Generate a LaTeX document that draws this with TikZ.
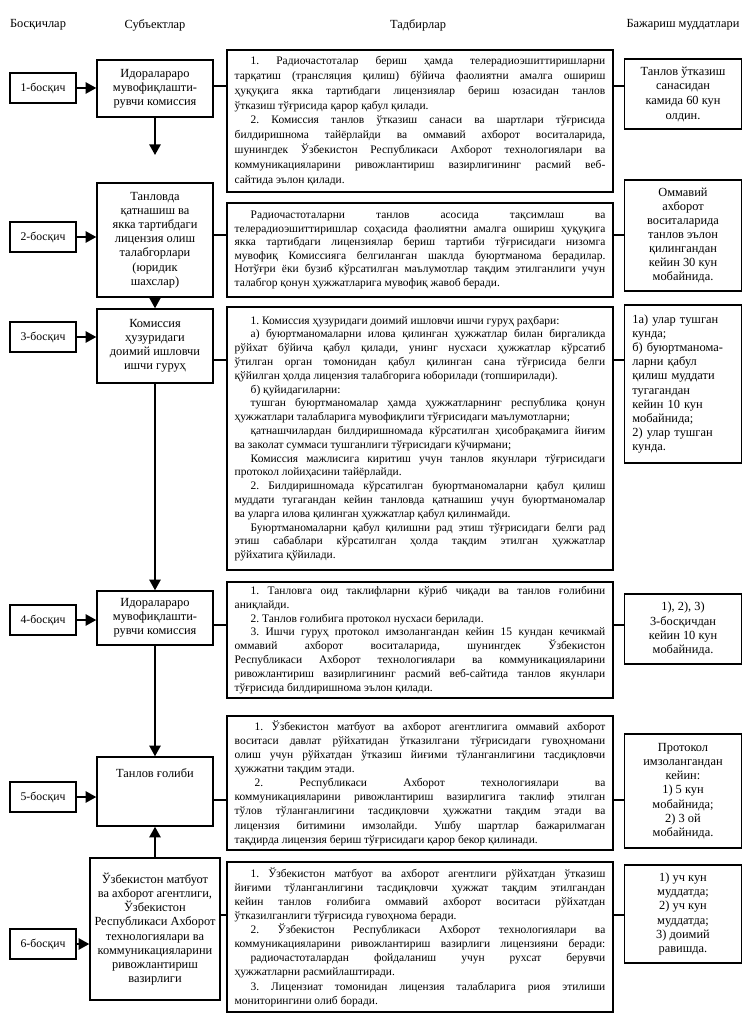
\documentclass[tikz,border=0pt]{standalone}
\usepackage{fontspec}
\setmainfont{Liberation Serif}
\usetikzlibrary{arrows.meta, positioning}
\frenchspacing

% one justified line, and the paragraph indent
\newcommand{\jl}[1]{#1\linebreak}
\newcommand{\ind}{\hspace*{12pt}}

\begin{document}
\begin{tikzpicture}[
  x=0.75pt, y=-0.75pt,
  stepbox/.style={
    rectangle, draw, line width=1.1pt, minimum width=49.5pt,
    minimum height=22.5pt, inner sep=0pt, font=\fontsize{8.8}{10}\selectfont
  },
  subjbox/.style={
    rectangle, draw, fill=white, line width=1.1pt, minimum width=87pt,
    align=center, inner sep=2pt
  },
  actbox/.style={
    rectangle, draw, fill=white, line width=1.1pt, text width=278pt,
    align=justify, inner xsep=5.75pt, inner ysep=2pt
  },
  termbox/.style={
    rectangle, draw, fill=white, line width=1.1pt, minimum width=87.75pt,
    align=center, inner sep=2pt
  },
  flow/.style={-{Triangle[length=8pt, width=8.5pt]}, line width=1.3pt},
  link/.style={line width=0.8pt},
  font=\fontsize{9.3}{10.6}\selectfont
]
\useasboundingbox (0,0) rectangle (754,1030);

% ------------------------------------------------------------
% column heads
\node (h1) at (38,25) {Босқичлар};
\node (h2) at (155,25) {Субъектлар};
\node (h3) at (418,25) {Тадбирлар};
\node (h4) at (683,25) {Бажариш муддатлари};

% ------------------------------------------------------------
% steps
\node[stepbox] (b1) at (43,88)  {1-босқич};
\node[stepbox] (b2) at (43,237) {2-босқич};
\node[stepbox] (b3) at (43,337) {3-босқич};
\node[stepbox] (b4) at (43,620) {4-босқич};
\node[stepbox] (b5) at (43,797) {5-босқич};
\node[stepbox] (b6) at (43,944) {6-босқич};

% ------------------------------------------------------------
% subjects
\node[subjbox, minimum height=42.75pt] (s1) at (155,88.5)
  {Идоралараро\\мувофиқлашти-\\рувчи комиссия};
\node[subjbox, minimum height=85.5pt] (s2) at (155,240)
  {Танловда\\қатнашиш ва\\якка тартибдаги\\лицензия олиш\\талабгорлари\\(юридик\\шахслар)};
\node[subjbox, minimum height=55.5pt] (s3) at (155,346)
  {Комиссия\\ҳузуридаги\\доимий ишловчи\\ишчи гуруҳ};
\node[subjbox, minimum height=40.5pt] (s4) at (155,618)
  {Идоралараро\\мувофиқлашти-\\рувчи комиссия};
\node[subjbox, minimum height=51.75pt] (s5) at (155,791.5) {};
\node[anchor=north] (s5t) at ([yshift=-6pt]s5.north) {Танлов ғолиби};
\node[subjbox, minimum width=97.5pt, minimum height=106.5pt] (s6) at (155,929)
  {Ўзбекистон матбуот\\ва ахборот агентлиги,\\Ўзбекистон\\Республикаси Ахборот\\технологиялари ва\\коммуникацияларини\\ривожлантириш\\вазирлиги};

% ------------------------------------------------------------
% measures
\node[actbox, minimum height=106.5pt, font=\fontsize{8.6}{11.1}\selectfont] (m1) at (420,121) {%
\jl{\ind 1. Радиочастоталар бериш ҳамда телерадиоэшиттиришларни}
\jl{тарқатиш (трансляция қилиш) бўйича фаолиятни амалга ошириш}
\jl{ҳуқуқига якка тартибдаги лицензиялар бериш юзасидан танлов}
ўтказиш тўғрисида қарор қабул қилади.\\
\jl{\ind 2. Комиссия танлов ўтказиш санаси ва шартлари тўғрисида}
\jl{билдиришнома тайёрлайди ва оммавий ахборот воситаларида,}
\jl{шунингдек Ўзбекистон Республикаси Ахборот технологиялари ва}
\jl{коммуникацияларини ривожлантириш вазирлигининг расмий веб-}
сайтида эълон қилади.};

\node[actbox, minimum height=70.5pt, font=\fontsize{8.6}{10.2}\selectfont] (m2) at (420,250) {%
\jl{\ind Радиочастоталарни танлов асосида тақсимлаш ва}
\jl{телерадиоэшиттиришлар соҳасида фаолиятни амалга ошириш ҳуқуқига}
\jl{якка тартибдаги лицензиялар бериш тартиби тўғрисидаги низомга}
\jl{мувофиқ Комиссияга белгиланган шаклда буюртманома берадилар.}
\jl{Нотўғри ёки бузиб кўрсатилган маълумотлар тақдим этилганлиги учун}
талабгор қонун ҳужжатларига мувофиқ жавоб беради.};

\node[actbox, minimum height=197.25pt, font=\fontsize{8.6}{10.35}\selectfont] (m3) at (420,438.5) {%
\ind 1. Комиссия ҳузуридаги доимий ишловчи ишчи гуруҳ раҳбари:\\
\jl{\ind а) буюртманомаларни илова қилинган ҳужжатлар билан биргаликда}
\jl{рўйхат бўйича қабул қилади, унинг нусхаси ҳужжатлар кўрсатиб}
\jl{ўтилган орган томонидан қабул қилинган сана тўғрисида белги}
қўйилган ҳолда лицензия талабгорига юборилади (топширилади).\\
\ind б) қуйидагиларни:\\
\jl{\ind тушган буюртманомалар ҳамда ҳужжатларнинг республика қонун}
ҳужжатлари талабларига мувофиқлиги тўғрисидаги маълумотларни;\\
\jl{\ind қатнашчилардан билдиришномада кўрсатилган ҳисобрақамига йиғим}
ва заколат суммаси тушганлиги тўғрисидаги кўчирмани;\\
\jl{\ind Комиссия мажлисига киритиш учун танлов якунлари тўғрисидаги}
протокол лойиҳасини тайёрлайди.\\
\jl{\ind 2. Билдиришномада кўрсатилган буюртманомаларни қабул қилиш}
\jl{муддати тугагандан кейин танловда қатнашиш учун буюртманомалар}
ва уларга илова қилинган ҳужжатлар қабул қилинмайди.\\
\jl{\ind Буюртманомаларни қабул қилишни рад этиш тўғрисидаги белги рад}
\jl{этиш сабаблари кўрсатилган ҳолда тақдим этилган ҳужжатлар}
рўйхатига қўйилади.};

\node[actbox, minimum height=87pt, font=\fontsize{8.6}{10.4}\selectfont] (m4) at (420,640) {%
\jl{\ind 1. Танловга оид таклифларни кўриб чиқади ва танлов ғолибини}
аниқлайди.\\
\ind 2. Танлов ғолибига протокол нусхаси берилади.\\
\jl{\ind 3. Ишчи гуруҳ протокол имзолангандан кейин 15 кундан кечикмай}
\jl{оммавий ахборот воситаларида, шунингдек Ўзбекистон}
\jl{Республикаси Ахборот технологиялари ва коммуникацияларини}
\jl{ривожлантириш вазирлигининг расмий веб-сайтида танлов якунлари}
тўғрисида билдиришнома эълон қилади.};

\node[actbox, minimum height=100.5pt, font=\fontsize{8.6}{10.6}\selectfont] (m5) at (420,783) {%
\jl{\hspace*{15pt}1. Ўзбекистон матбуот ва ахборот агентлигига оммавий ахборот}
\jl{воситаси давлат рўйхатидан ўтказилгани тўғрисидаги гувоҳномани}
\jl{олиш учун рўйхатдан ўтказиш йиғими тўланганлигини тасдиқловчи}
ҳужжатни тақдим этади.\\
\jl{\hspace*{15pt}2. Республикаси Ахборот технологиялари ва}
\jl{коммуникацияларини ривожлантириш вазирлигига таклиф этилган}
\jl{тўлов тўланганлигини тасдиқловчи ҳужжатни тақдим этади ва}
\jl{лицензия битимини имзолайди. Ушбу шартлар бажарилмаган}
тақдирда лицензия бериш тўғрисидаги қарор бекор қилинади.};

\node[actbox, minimum height=112.5pt, font=\fontsize{8.6}{10.6}\selectfont] (m6) at (420,937) {%
\jl{\ind 1. Ўзбекистон матбуот ва ахборот агентлиги рўйхатдан ўтказиш}
\jl{йиғими тўланганлигини тасдиқловчи ҳужжат тақдим этилгандан}
\jl{кейин танлов ғолибига оммавий ахборот воситаси рўйхатдан}
ўтказилганлиги тўғрисида гувоҳнома беради.\\
\jl{\ind 2. Ўзбекистон Республикаси Ахборот технологиялари ва}
\jl{коммуникацияларини ривожлантириш вазирлиги лицензияни беради:}
\jl{\ind радиочастоталардан фойдаланиш учун рухсат берувчи}
ҳужжатларни расмийлаштиради.\\
\jl{\ind 3. Лицензиат томонидан лицензия талабларига риоя этилиши}
мониторингини олиб боради.};

% ------------------------------------------------------------
% terms
\node[termbox, minimum height=52.5pt, font=\fontsize{9.3}{11}\selectfont] (t1) at (683,94)
  {Танлов ўтказиш\\санасидан\\камида 60 кун\\олдин.};
\node[termbox, minimum height=83.25pt] (t2) at (683,235.5)
  {Оммавий\\ахборот\\воситаларида\\танлов эълон\\қилингандан\\кейин 30 кун\\мобайнида.};
\node[termbox, minimum height=118.5pt, text width=76pt, align=left, inner xsep=5.9pt] (t3) at (683,384)
  {1а) улар тушган\\кунда;\\б) буюртманома-\\ларни қабул\\қилиш муддати\\тугагандан\\кейин 10 кун\\мобайнида;\\2) улар тушган\\кунда.};
\node[termbox, minimum height=52.5pt] (t4) at (683,629)
  {1), 2), 3)\\3-босқичдан\\кейин 10 кун\\мобайнида.};
\node[termbox, minimum height=85.5pt] (t5) at (683,791)
  {Протокол\\имзолангандан\\кейин:\\1) 5 кун\\мобайнида;\\2) 3 ой\\мобайнида.};
\node[termbox, minimum height=73.5pt] (t6) at (683,914)
  {1) уч кун\\муддатда;\\2) уч кун\\муддатда;\\3) доимий\\равишда.};

% ------------------------------------------------------------
% step -> subject arrows
\foreach \i in {1,...,6} {
  \draw[flow] (b\i.east) -- (b\i.east -| s\i.west);
}

% row links (subject -- measure -- term)
\coordinate (r1) at (0,86);
\coordinate (r2) at (0,235);
\coordinate (r3) at (0,360);
\coordinate (r4) at (0,625);
\coordinate (r5) at (0,800);
\coordinate (r6) at (0,915);
\foreach \i in {1,...,6} {
  \draw[link] (s\i.east |- r\i) -- (m\i.west |- r\i);
  \draw[link] (m\i.east |- r\i) -- (t\i.west |- r\i);
}

% flow between subjects
\coordinate (s1end) at (155,155);
\draw[flow] (s1.south) -- (s1end);
\draw[flow] (s2.south) -- (s3.north);
\draw[flow] (s3.south) -- (s4.north);
\draw[flow] (s4.south) -- (s5.north);
\draw[flow] (s6.north) -- (s5.south);

\end{tikzpicture}
\end{document}
